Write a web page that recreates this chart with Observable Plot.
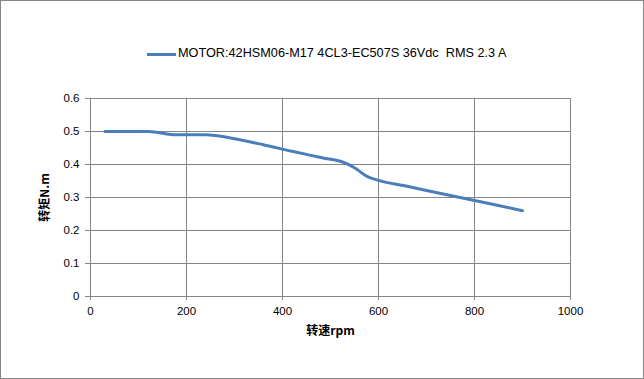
<!DOCTYPE html>
<html>
<head>
<meta charset="utf-8">
<script src="https://cdn.jsdelivr.net/npm/d3@7"></script>
<script src="https://cdn.jsdelivr.net/npm/@observablehq/plot@0.6"></script>
<style>
  html, body { margin: 0; padding: 0; background: #fff; }
  #wrap { position: relative; width: 644px; height: 379px; overflow: hidden; background: #fff; }
  #border { position: absolute; left: 0; top: 0; width: 642px; height: 377px; border: 1px solid #868686; pointer-events: none; }
  #legend { position: absolute; left: 0; top: 0; width: 644px; height: 80px; }
  #legend .sw { position: absolute; left: 147px; top: 53px; width: 29px; height: 3px; background: #4a7ebb; }
  #legend .tx { position: absolute; left: 178px; top: 46px; font: 12.7px "Liberation Sans", Arial, sans-serif; color: #000; white-space: pre; }
  #chart { position: absolute; left: 0; top: 80px; }
  g[aria-label="x-axis label"] text, g[aria-label="y-axis label"] text { font-weight: bold; font-size: 12px; font-family: "Noto Sans CJK SC", "Liberation Sans", sans-serif; }
</style>
</head>
<body>
<div id="wrap">
  <div id="legend"><div class="sw"></div><div class="tx"></div></div>
  <div id="chart"></div>
  <div id="border"></div>
</div>
<script>
const seriesName = "MOTOR:42HSM06-M17 4CL3-EC507S 36Vdc  RMS 2.3 A";
const rpm    = [30,   120,  180,  240,  300,   360,  420,  480,   530,   550,   575,   600,   660,   720,   780,   840,   900];
const torque = [0.50, 0.50, 0.49, 0.49, 0.478, 0.46, 0.44, 0.421, 0.405, 0.39,  0.365, 0.352, 0.334, 0.315, 0.297, 0.279, 0.26];
const xTicks = [0, 200, 400, 600, 800, 1000];
const yTicks = [0, 0.1, 0.2, 0.3, 0.4, 0.5, 0.6];
const xLabel = "转速rpm";
const yLabel = "转矩N.m";

const data = rpm.map((r, i) => ({rpm: r, torque: torque[i]}));
document.querySelector("#legend .tx").textContent = seriesName;

const chart = Plot.plot({
  width: 644,
  height: 299,
  marginLeft: 90,
  marginRight: 74,
  marginTop: 18,
  marginBottom: 83,
  style: { fontFamily: "Liberation Sans, Arial, sans-serif", fontSize: "11.5px", color: "#000", background: "transparent" },
  x: { domain: [0, 1000], ticks: xTicks },
  y: { domain: [0, 0.6], ticks: yTicks },
  marks: [
    Plot.gridX(xTicks, { stroke: "#868686", strokeOpacity: 1 }),
    Plot.gridY(yTicks, { stroke: "#868686", strokeOpacity: 1 }),
    Plot.axisX({ ticks: xTicks, tickSize: 4, tickPadding: 6, stroke: "#868686", tickFormat: d => String(d), label: xLabel, labelAnchor: "center", labelArrow: "none", labelOffset: 38, fill: "#000" }),
    Plot.axisY({ ticks: yTicks, tickSize: 5, tickPadding: 6, stroke: "#868686", tickFormat: d => d === 0 ? "0" : d.toFixed(1), label: yLabel, labelAnchor: "center", labelArrow: "none", labelOffset: 50, fill: "#000" }),
    Plot.ruleX([0], { stroke: "#868686" }),
    Plot.ruleY([0], { stroke: "#868686" }),
    Plot.line(data, { x: "rpm", y: "torque", stroke: "#4a7ebb", strokeWidth: 3, curve: "monotone-x" })
  ]
});
document.getElementById("chart").appendChild(chart);
</script>
</body>
</html>
